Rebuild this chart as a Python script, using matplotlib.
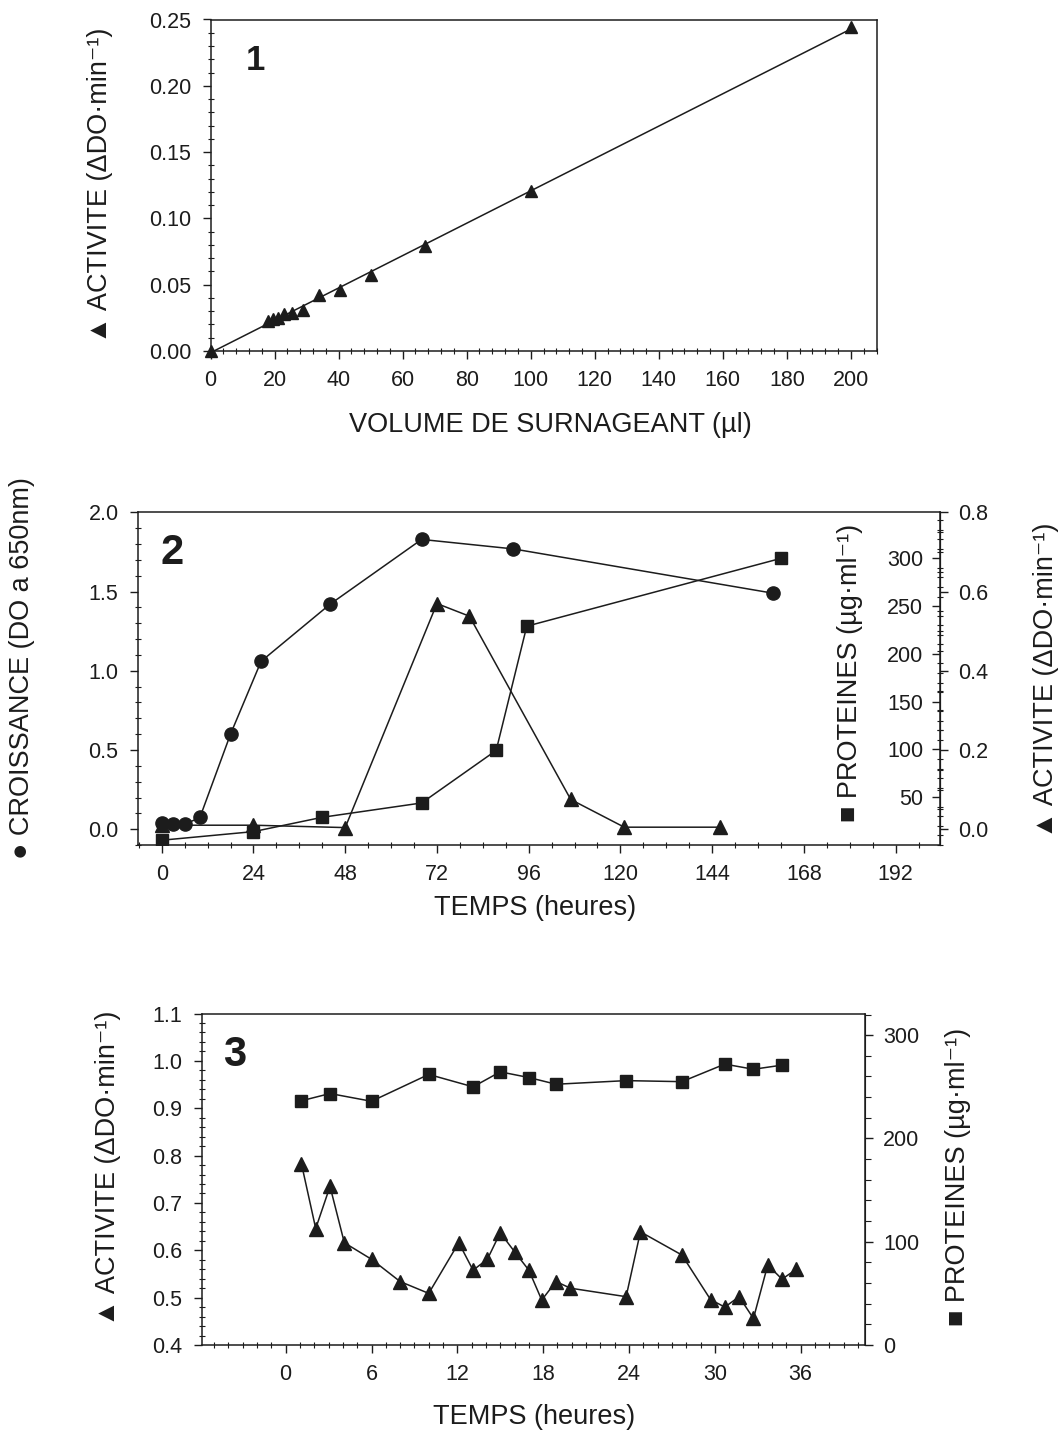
import numpy as np
import matplotlib
matplotlib.use("Agg")
import matplotlib.pyplot as plt
from matplotlib.ticker import MultipleLocator, FormatStrFormatter

plt.rcParams['font.family'] = ['Liberation Sans', 'DejaVu Sans']

INK = '#1c1c1c'
TICK_FS = 15.5
LABEL_FS = 19.5

# --- panel 1: activity vs supernatant volume
vol_ul = [0, 18, 19.5, 21, 23, 25.5, 29, 34, 40.5, 50, 67, 100, 200]
act_vol = [0.0, 0.023, 0.024, 0.025, 0.028, 0.029, 0.031, 0.042, 0.046, 0.057, 0.079, 0.121, 0.244]

# --- panel 2: culture kinetics
t_growth = [0, 3, 6, 10, 18, 26, 44, 68, 92, 160]
growth = [0.036, 0.03, 0.03, 0.074, 0.60, 1.06, 1.42, 1.83, 1.77, 1.49]
t_act2 = [0, 24, 48, 72, 80.5, 107, 121, 146]
act2 = [0.01, 0.01, 0.004, 0.57, 0.538, 0.075, 0.005, 0.005]
t_prot2 = [0, 24, 42, 68, 87.5, 95.5, 162]
prot2 = [5, 14, 29, 44, 99, 229, 300]

# --- panel 3: 36 h follow-up
t_prot3 = [1.1, 3.1, 6.0, 10.0, 13.1, 15.0, 17.0, 18.9, 23.8, 27.7, 30.7, 32.7, 34.7]
prot3 = [236.5, 243.5, 236, 262, 250, 264.5, 259, 252.5, 256, 255, 272, 267, 271]
t_act3 = [1.1, 2.1, 3.1, 4.1, 6.0, 8.0, 10.0, 12.1, 13.1, 14.1, 15.0, 16.0, 17.0,
          17.9, 18.9, 19.9, 23.8, 24.8, 27.7, 29.7, 30.7, 31.7, 32.7, 33.7, 34.7, 35.7]
act3 = [0.783, 0.646, 0.735, 0.616, 0.581, 0.534, 0.509, 0.616, 0.558, 0.581, 0.637, 0.597, 0.558,
        0.495, 0.534, 0.52, 0.502, 0.639, 0.59, 0.496, 0.48, 0.502, 0.456, 0.569, 0.539, 0.56]

W, H = 1064, 1432
fig = plt.figure(figsize=(W / 100, H / 100), dpi=100)


def box(l, t, r, b):
    return [l / W, 1 - b / H, (r - l) / W, (b - t) / H]


def style_axis(ax):
    for s in ax.spines.values():
        s.set_color(INK)
        s.set_linewidth(1.1)
    ax.tick_params(which='major', direction='out', length=6, width=1.0, colors=INK,
                   labelsize=TICK_FS, pad=6)
    ax.tick_params(which='minor', direction='inout', length=4, width=0.8, colors=INK)
    ax.tick_params(top=False, right=False, which='both')


def ftext(x, y, s, **kw):
    kw.setdefault('fontsize', LABEL_FS)
    kw.setdefault('color', INK)
    fig.text(x / W, 1 - y / H, s, ha='center', va='center', **kw)


line_kw = dict(color=INK, lw=1.1)

# ---------------- panel 1
ax1 = fig.add_axes(box(210.5, 19.5, 876.5, 351))
style_axis(ax1)
slope, icpt = np.polyfit(vol_ul, act_vol, 1)
xfit = np.array([0, max(vol_ul)])
ax1.plot(xfit, slope * xfit + icpt, **line_kw)
ax1.plot(vol_ul, act_vol, ls='none', marker='^', ms=9, color=INK, clip_on=False)
ax1.set_xlim(0, 208)
ax1.set_ylim(0, 0.25)
ax1.xaxis.set_major_locator(MultipleLocator(20))
ax1.xaxis.set_minor_locator(MultipleLocator(4))
ax1.yaxis.set_major_locator(MultipleLocator(0.05))
ax1.yaxis.set_minor_locator(MultipleLocator(0.01))
ax1.yaxis.set_major_formatter(FormatStrFormatter('%.2f'))
ax1.tick_params(axis='both', which='major', pad=8)
ftext(255, 60, '1', fontsize=25, fontweight='bold')
ftext(550, 425, 'VOLUME DE SURNAGEANT (µl)')
ftext(100, 185, '▲ ACTIVITE (ΔDO·min⁻¹)', rotation=90)

# ---------------- panel 2
ax2 = fig.add_axes(box(138, 512.5, 940, 845))
style_axis(ax2)
ax2.set_xlim(-6.2, 203.6)
ax2.set_ylim(-0.1, 2.0)
ax2.xaxis.set_major_locator(MultipleLocator(24))
ax2.xaxis.set_minor_locator(MultipleLocator(6))
ax2.yaxis.set_major_locator(MultipleLocator(0.5))
ax2.yaxis.set_minor_locator(MultipleLocator(0.1))
ax2.yaxis.set_major_formatter(FormatStrFormatter('%.1f'))
ax2.tick_params(axis='y', which='major', pad=8)
ax2.tick_params(axis='x', which='major', pad=8)

ax2p = ax2.twinx()
ax2p.set_ylim(0, 348)
for s in ['top', 'bottom', 'right']:
    ax2p.spines[s].set_visible(False)
ax2p.spines['left'].set_position(('axes', 1.0))
ax2p.spines['left'].set_color(INK)
ax2p.yaxis.tick_left()
ax2p.set_yticks([50, 100, 150, 200, 250, 300])
ax2p.yaxis.set_minor_locator(MultipleLocator(10))
ax2p.tick_params(axis='y', which='major', direction='out', length=6, width=1.0,
                 colors=INK, labelsize=TICK_FS, pad=6, left=True, right=False,
                 labelleft=True, labelright=False)
ax2p.tick_params(axis='y', which='minor', direction='inout', length=4, width=0.8,
                 colors=INK, left=True, right=False)

ax2a = ax2.twinx()
ax2a.set_ylim(-0.04, 0.8)
for s in ['top', 'bottom', 'left']:
    ax2a.spines[s].set_visible(False)
ax2a.spines['right'].set_color(INK)
ax2a.yaxis.set_major_locator(MultipleLocator(0.2))
ax2a.yaxis.set_minor_locator(MultipleLocator(0.05))
ax2a.yaxis.set_major_formatter(FormatStrFormatter('%.1f'))
ax2a.tick_params(axis='y', which='major', direction='out', length=6, width=1.0,
                 colors=INK, labelsize=TICK_FS, pad=7)
ax2a.tick_params(axis='y', which='minor', direction='inout', length=4, width=0.8, colors=INK)
ax2a.set_yticks([0.0, 0.2, 0.4, 0.6, 0.8])

ax2.plot(t_growth, growth, marker='o', ms=9.5, **line_kw)
ax2a.plot(t_act2, act2, marker='^', ms=9.5, **line_kw)
ax2p.plot(t_prot2, prot2, marker='s', ms=8.5, **line_kw)

ftext(172, 553, '2', fontsize=30, fontweight='bold')
ftext(535, 908, 'TEMPS (heures)')
ftext(22, 668, '● CROISSANCE (DO a 650nm)', rotation=90)
ftext(850, 673, '■ PROTEINES (µg·ml⁻¹)', rotation=90)
ftext(1046, 680, '▲ ACTIVITE (ΔDO·min⁻¹)', rotation=90)

# ---------------- panel 3
ax3 = fig.add_axes(box(202, 1013.5, 865, 1345))
style_axis(ax3)
ax3.set_xlim(-5.85, 40.5)
ax3.set_ylim(0.4, 1.1)
ax3.set_xticks([0, 6, 12, 18, 24, 30, 36])
ax3.xaxis.set_minor_locator(MultipleLocator(1))
ax3.yaxis.set_major_locator(MultipleLocator(0.1))
ax3.yaxis.set_minor_locator(MultipleLocator(0.02))
ax3.yaxis.set_major_formatter(FormatStrFormatter('%.1f'))
ax3.tick_params(axis='both', which='major', pad=8)

ax3p = ax3.twinx()
ax3p.set_ylim(0, 321)
for s in ['top', 'bottom', 'left']:
    ax3p.spines[s].set_visible(False)
ax3p.spines['right'].set_color(INK)
ax3p.yaxis.set_major_locator(MultipleLocator(100))
ax3p.yaxis.set_minor_locator(MultipleLocator(20))
ax3p.tick_params(axis='y', which='major', direction='out', length=6, width=1.0,
                 colors=INK, labelsize=TICK_FS, pad=7)
ax3p.tick_params(axis='y', which='minor', direction='out', length=4, width=0.8, colors=INK)

ax3.plot(t_act3, act3, marker='^', ms=9.5, **line_kw)
ax3p.plot(t_prot3, prot3, marker='s', ms=8.5, **line_kw)

ftext(235, 1055, '3', fontsize=30, fontweight='bold')
ftext(534, 1417, 'TEMPS (heures)')
ftext(108, 1168, '▲ ACTIVITE (ΔDO·min⁻¹)', rotation=90)
ftext(958, 1177, '■ PROTEINES (µg·ml⁻¹)', rotation=90)

fig.savefig('out.png', dpi=100, facecolor='white')
